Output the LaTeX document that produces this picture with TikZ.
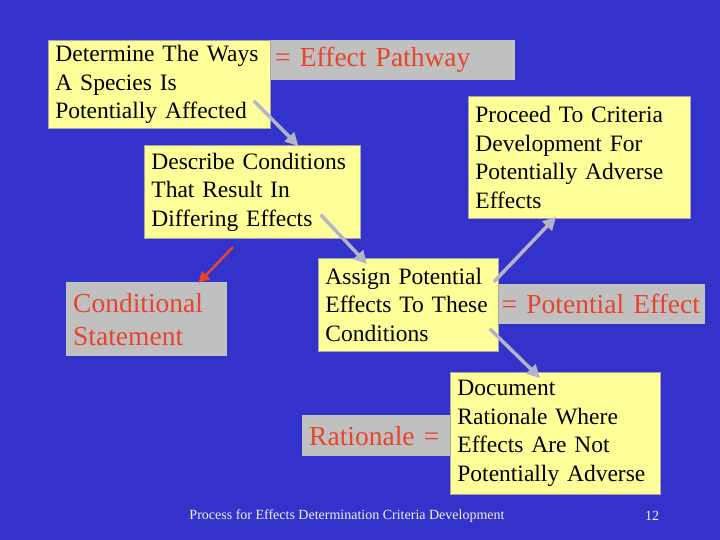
\documentclass[tikz,border=0pt]{standalone}
\usepackage{fontspec}
\setmainfont{Liberation Serif}
\usepackage{xcolor}
\usepackage{tikz}
\usetikzlibrary{arrows.meta,positioning}

\definecolor{slideblue}{HTML}{3333CC}
\definecolor{boxyellow}{HTML}{FFFF99}
\definecolor{boxgray}{HTML}{C0C0C0}
\definecolor{labelred}{HTML}{E8442C}
\definecolor{arrowgray}{HTML}{B4B4C8}

\begin{document}
\begin{tikzpicture}[x=1pt,y=-1pt,
          task/.style={draw=gray!70,line width=0.8pt,fill=boxyellow,anchor=north west,align=left,
                       inner xsep=7pt,inner ysep=2pt,font=\fontsize{23.5}{28.5}\selectfont},
          note/.style={fill=boxgray,anchor=north west,align=left,inner xsep=7pt,inner ysep=0pt,
                       text=labelred,font=\fontsize{27.5}{33}\selectfont},
          arr/.style={draw=arrowgray,line width=3.5pt,-{Triangle[length=13pt,width=13pt]}},
          warn/.style={draw=labelred,line width=2.5pt,-{Triangle[length=11pt,width=11pt]}},
          foot/.style={text=white!88!gray,font=\fontsize{14}{16}\selectfont}]
        \fill[slideblue] (0,0) rectangle (720,540);
        \useasboundingbox (0,0) rectangle (720,540);
        % labels in gray, behind the steps
        \node[note,text width=233pt,minimum height=40pt] (pathway) at (268,40)  {= Effect Pathway};
        \node[note,inner xsep=3.5pt,text width=200pt,minimum height=40pt] (potential) at (498,284)
              {= Potential Effect};
        \node[note,text width=134pt,minimum height=41pt] (rationale) at (302,415) {Rationale =};
        \node[note,text width=147pt,minimum height=74pt] (cond) at (66,282) {Conditional\\Statement};
        % process steps
        \node[task,text width=208pt,minimum height=88pt] (ways) at (48,40)
              {Determine The Ways\\A Species Is\\Potentially Affected};
        \node[task,text width=202pt,minimum height=93pt] (describe) at (144,145)
              {Describe Conditions\\That Result In\\Differing Effects};
        \node[task,text width=208pt,minimum height=122pt] (proceed) at (468,96)
              {Proceed To Criteria\\Development For\\Potentially Adverse\\Effects};
        \node[task,text width=166pt,minimum height=93pt] (assign) at (318,258)
              {Assign Potential\\Effects To These\\Conditions};
        \node[task,text width=196pt,minimum height=122pt] (document) at (450,372)
              {Document\\Rationale Where\\Effects Are Not\\Potentially Adverse};
        % connectors
        \draw[arr] ([shift={(-17,-28)}]ways.south east) -- ([shift={(46,1)}]describe.north);
        \draw[arr] ([shift={(-40,-24)}]describe.south east) -- ([shift={(49,6)}]assign.north west);
        \draw[arr] ([shift={(-5,24)}]assign.north east) -- ([shift={(88,-2)}]proceed.south west);
        \draw[arr] ([shift={(-9,-23)}]assign.south east) -- ([shift={(90,6)}]document.north west);
        \coordinate (condtail) at (233,247);
        \draw[warn] (condtail) -- ([shift={(-29,1)}]cond.north east);
        % footer
        \node[foot] (title) at (347,516) {Process for Effects Determination Criteria Development};
        \node[foot] (page) at (652,516) {12};
      \end{tikzpicture}
\end{document}
